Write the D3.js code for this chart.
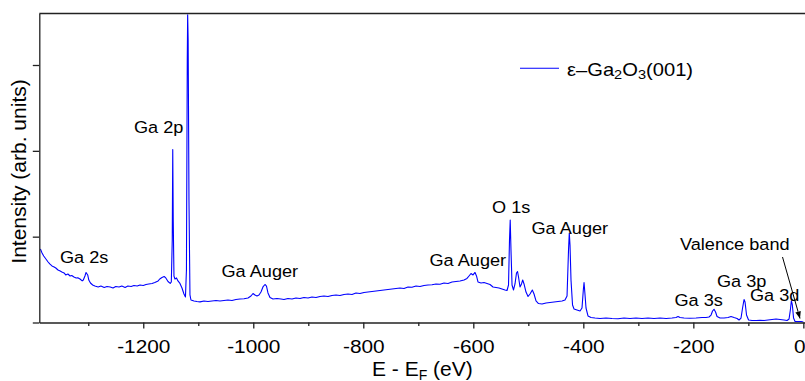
<!DOCTYPE html>
<html>
<head>
<meta charset="utf-8">
<script src="https://cdn.jsdelivr.net/npm/d3@7"></script>
<style>
  html, body { margin: 0; padding: 0; background: #fff; }
  svg { display: block; font-family: "Liberation Sans", Arial, sans-serif; }
</style>
</head>
<body>
<div id="chart"></div>
<script>
// binding energy E - E_F (eV) and intensity (arb. units)
const energy = [
  -1387, -1384, -1381, -1377, -1373, -1370, -1366, -1362, -1359, -1355,
  -1351, -1348, -1344, -1341, -1337, -1333, -1330, -1326, -1322, -1319,
  -1315, -1311, -1309, -1306, -1304, -1301, -1299, -1296, -1292, -1288,
  -1282, -1277, -1271, -1266, -1260, -1255, -1250, -1244, -1239, -1233,
  -1228, -1222, -1217, -1211, -1206, -1200, -1195, -1190, -1184, -1179,
  -1173, -1170, -1166, -1162, -1159, -1155, -1151, -1149, -1147.3, -1146.4,
  -1145.5, -1144.2, -1142.4, -1139.6, -1136.9, -1133.3, -1129.6, -1126, -1123.3, -1121.5,
  -1120, -1119.3, -1118.4, -1116.9, -1115.1, -1113.3, -1107.8, -1102.4, -1096.9, -1089.6,
  -1082.4, -1075.1, -1067.8, -1060.5, -1053.3, -1046, -1038.7, -1031.5, -1024.2, -1016.9,
  -1009.6, -1004.2, -1000.5, -996.9, -993.3, -989.6, -986, -982.4, -978.7, -976,
  -973.3, -969.6, -964.2, -956.9, -949.6, -944.2, -936.9, -929.6, -922.4, -915.1,
  -907.8, -900.5, -893.3, -886, -878.7, -871.5, -864.2, -856.9, -849.6, -842.4,
  -835.1, -827.8, -820.5, -813.3, -806, -798.7, -791.5, -784.2, -776.9, -769.6,
  -762.4, -755.1, -747.8, -740.5, -733.3, -726, -718.7, -711.5, -704.2, -696.9,
  -689.6, -682.4, -675.1, -667.8, -660.5, -653.3, -646, -638.7, -631.5, -624.2,
  -616.9, -611.5, -607.8, -604.2, -600.5, -596.9, -594.2, -591.5, -586, -580.5,
  -575.1, -569.6, -564.2, -558.7, -553.3, -547.8, -542.4, -538.7, -536, -534.2,
  -532.9, -531.5, -529.6, -526.9, -524.2, -521.5, -519.6, -517.8, -515.1, -512.4,
  -510.2, -507.8, -504.2, -500.5, -496.9, -492.7, -489.6, -486, -481.5, -475.1,
  -467.8, -460.5, -453.3, -446, -438.7, -433.3, -429.6, -426.9, -425.5, -424.2,
  -422.4, -419.6, -416.9, -411.5, -406, -402.4, -400, -398.7, -397.3, -395.1,
  -391.5, -386, -378.7, -369.6, -358.7, -347.8, -336.9, -326, -315.1, -304.2,
  -293.3, -282.4, -271.5, -260.5, -249.6, -238.7, -231.5, -227.8, -224.2, -216.9,
  -206, -195.1, -184.2, -176.9, -171.5, -167.8, -165.1, -162.4, -159.6, -156.9,
  -151.5, -144.2, -136.9, -131.5, -126, -120.5, -116.9, -113.3, -110.5, -107.8,
  -106, -103.3, -99.6, -93.3, -86, -78.7, -71.5, -64.2, -56.9, -49.6,
  -42.4, -35.1, -29.6, -26, -23.6, -21.8, -20, -17.8, -15.1, -9.6,
  -4.2, 0
];
const intensity = [
  0.857, 0.810, 0.775, 0.740, 0.705, 0.682, 0.659, 0.647, 0.635, 0.612,
  0.600, 0.589, 0.577, 0.554, 0.565, 0.542, 0.548, 0.530, 0.519, 0.522,
  0.507, 0.484, 0.495, 0.542, 0.583, 0.554, 0.495, 0.460, 0.437, 0.425,
  0.414, 0.425, 0.408, 0.420, 0.414, 0.402, 0.420, 0.414, 0.425, 0.408,
  0.425, 0.420, 0.431, 0.425, 0.437, 0.431, 0.443, 0.449, 0.455, 0.466,
  0.484, 0.507, 0.524, 0.536, 0.519, 0.478, 0.455, 0.472, 0.962, 2.016,
  1.195, 0.542, 0.507, 0.519, 0.484, 0.455, 0.402, 0.332, 0.297, 0.612,
  3.059, 3.584, 3.293, 1.428, 0.321, 0.262, 0.251, 0.245, 0.240, 0.251,
  0.245, 0.251, 0.256, 0.251, 0.256, 0.262, 0.256, 0.268, 0.274, 0.277,
  0.286, 0.309, 0.338, 0.321, 0.309, 0.321, 0.355, 0.414, 0.443, 0.425,
  0.344, 0.291, 0.274, 0.280, 0.274, 0.268, 0.280, 0.274, 0.286, 0.280,
  0.291, 0.286, 0.297, 0.291, 0.303, 0.309, 0.303, 0.315, 0.321, 0.315,
  0.326, 0.332, 0.326, 0.344, 0.338, 0.350, 0.355, 0.361, 0.367, 0.373,
  0.379, 0.385, 0.390, 0.396, 0.402, 0.396, 0.414, 0.410, 0.425, 0.420,
  0.431, 0.437, 0.440, 0.449, 0.446, 0.460, 0.455, 0.472, 0.478, 0.484,
  0.495, 0.513, 0.542, 0.571, 0.554, 0.583, 0.542, 0.472, 0.460, 0.466,
  0.455, 0.443, 0.414, 0.408, 0.402, 0.390, 0.379, 0.373, 0.437, 0.962,
  1.195, 0.845, 0.437, 0.379, 0.449, 0.577, 0.594, 0.530, 0.414, 0.449,
  0.495, 0.449, 0.355, 0.303, 0.332, 0.379, 0.332, 0.251, 0.221, 0.216,
  0.227, 0.233, 0.239, 0.245, 0.251, 0.262, 0.309, 0.845, 1.043, 0.903,
  0.495, 0.204, 0.157, 0.146, 0.134, 0.169, 0.379, 0.466, 0.355, 0.169,
  0.076, 0.058, 0.052, 0.047, 0.052, 0.047, 0.044, 0.052, 0.047, 0.052,
  0.047, 0.052, 0.047, 0.052, 0.047, 0.052, 0.058, 0.070, 0.058, 0.052,
  0.050, 0.052, 0.058, 0.058, 0.064, 0.087, 0.134, 0.154, 0.122, 0.070,
  0.052, 0.052, 0.058, 0.070, 0.058, 0.047, 0.029, 0.052, 0.169, 0.268,
  0.239, 0.087, 0.029, 0.023, 0.023, 0.026, 0.023, 0.029, 0.035, 0.041,
  0.035, 0.029, 0.023, 0.041, 0.146, 0.254, 0.204, 0.052, 0.012, 0.012,
  0.012, 0.006
];

const xTicks = [-1200, -1000, -800, -600, -400, -200, 0];
const xMinorTicks = [-1300, -1100, -900, -700, -500, -300, -100];
const yTicks = [0, 1, 2, 3];
const peakNames = ["Ga 2s", "Ga 2p", "Ga Auger", "Ga Auger", "O 1s", "Ga Auger",
                   "Valence band", "Ga 3p", "Ga 3s", "Ga 3d"];

const width = 805, height = 381;
const margin = {top: 13.5, right: 0, bottom: 58.5, left: 39.3};

const svg = d3.select("#chart").append("svg")
  .attr("width", width)
  .attr("height", height);

const x = d3.scaleLinear()
  .domain([-1389, 3])
  .range([margin.left, width - margin.right]);

const y = d3.scaleLinear()
  .domain([0, 3.6])
  .range([height - margin.bottom, margin.top]);

const axisColor = "#222";

// spectrum
const line = d3.line()
  .x(d => x(d[0]))
  .y(d => y(d[1]));

svg.append("path")
  .datum(d3.zip(energy, intensity))
  .attr("fill", "none")
  .attr("stroke", "#0000ff")
  .attr("stroke-width", 1.1)
  .attr("stroke-linejoin", "round")
  .attr("d", line);

// axes
let xAxis = g => g
  .attr("transform", `translate(0, ${y(0)})`)
  .call(d3.axisBottom(x).tickValues(xTicks).tickSize(6).tickSizeOuter(0)
    .tickFormat(d => String(d)))
  .call(g => g.selectAll("text")
    .attr("y", 31).attr("dy", 0)
    .attr("transform", "scale(1.12,1)")
    .style("font-size", "18.6px"))
  // keep the last label ("0") inside the page edge
  .call(g => g.selectAll(".tick").filter(d => d === 0).select("text")
    .attr("text-anchor", "end").attr("x", 1.5));

let xMinor = g => g
  .attr("transform", `translate(0, ${y(0)})`)
  .call(d3.axisBottom(x).tickValues(xMinorTicks).tickSize(3.5).tickFormat(""))
  .call(g => g.select(".domain").remove());

let yAxis = g => g
  .attr("transform", `translate(${margin.left}, 0)`)
  .call(d3.axisLeft(y).tickValues(yTicks).tickSize(6.5).tickSizeOuter(0).tickFormat(""));

[xAxis, xMinor, yAxis].forEach(a => {
  const g = svg.append("g").call(a);
  g.selectAll("path, line").attr("stroke", axisColor).attr("stroke-width", 1.3);
  g.selectAll("text").attr("fill", "#000").attr("font-family", null);
});

// top frame line
svg.append("line")
  .attr("x1", margin.left).attr("x2", width)
  .attr("y1", margin.top).attr("y2", margin.top)
  .attr("stroke", axisColor).attr("stroke-width", 1.3);

// axis titles
svg.append("text")
  .attr("transform", `translate(26, 171.5) rotate(-90)`)
  .attr("text-anchor", "middle")
  .style("font-size", "21px")
  .text("Intensity (arb. units)");

const xt = svg.append("text")
  .attr("x", 372).attr("y", 375.5)
  .style("font-size", "21px");
xt.append("tspan").text("E - E");
xt.append("tspan").attr("dy", 4).style("font-size", "14px").text("F");
xt.append("tspan").attr("dy", -4).text(" (eV)");

// peak labels
const labelPos = [[60, 262.7], [134, 132.7], [221.5, 277.3], [429.5, 266], [492, 212.7],
                  [531.5, 234], [680, 250], [717, 286.7], [674.5, 305.7], [750, 301]];
peakNames.forEach((name, i) => {
  svg.append("text")
    .attr("transform", `translate(${labelPos[i][0]}, ${labelPos[i][1]}) scale(1.1,1)`)
    .style("font-size", "16.5px")
    .text(name);
});

// valence band arrow
svg.append("defs").append("marker")
  .attr("id", "arrow")
  .attr("viewBox", "0 0 10 10")
  .attr("refX", 10).attr("refY", 5)
  .attr("markerWidth", 7).attr("markerHeight", 7)
  .attr("markerUnits", "userSpaceOnUse")
  .attr("orient", "auto")
  .append("path")
  .attr("d", "M0,1 L10,5 L0,9 Z")
  .attr("fill", "#000");

svg.append("line")
  .attr("x1", 782.5).attr("y1", 257)
  .attr("x2", 800).attr("y2", 318.5)
  .attr("stroke", "#000").attr("stroke-width", 1)
  .attr("marker-end", "url(#arrow)");

// legend
svg.append("line")
  .attr("x1", 520).attr("x2", 559)
  .attr("y1", 68.3).attr("y2", 68.3)
  .attr("stroke", "#0000ff").attr("stroke-width", 1.1);

const lg = svg.append("text")
  .attr("transform", "translate(567, 75.7) scale(1.12,1)")
  .style("font-size", "18px");
lg.append("tspan").text("ε–Ga");
lg.append("tspan").attr("dy", 3).style("font-size", "13px").text("2");
lg.append("tspan").attr("dy", -3).text("O");
lg.append("tspan").attr("dy", 3).style("font-size", "13px").text("3");
lg.append("tspan").attr("dy", -3).text("(001)");
</script>
</body>
</html>
